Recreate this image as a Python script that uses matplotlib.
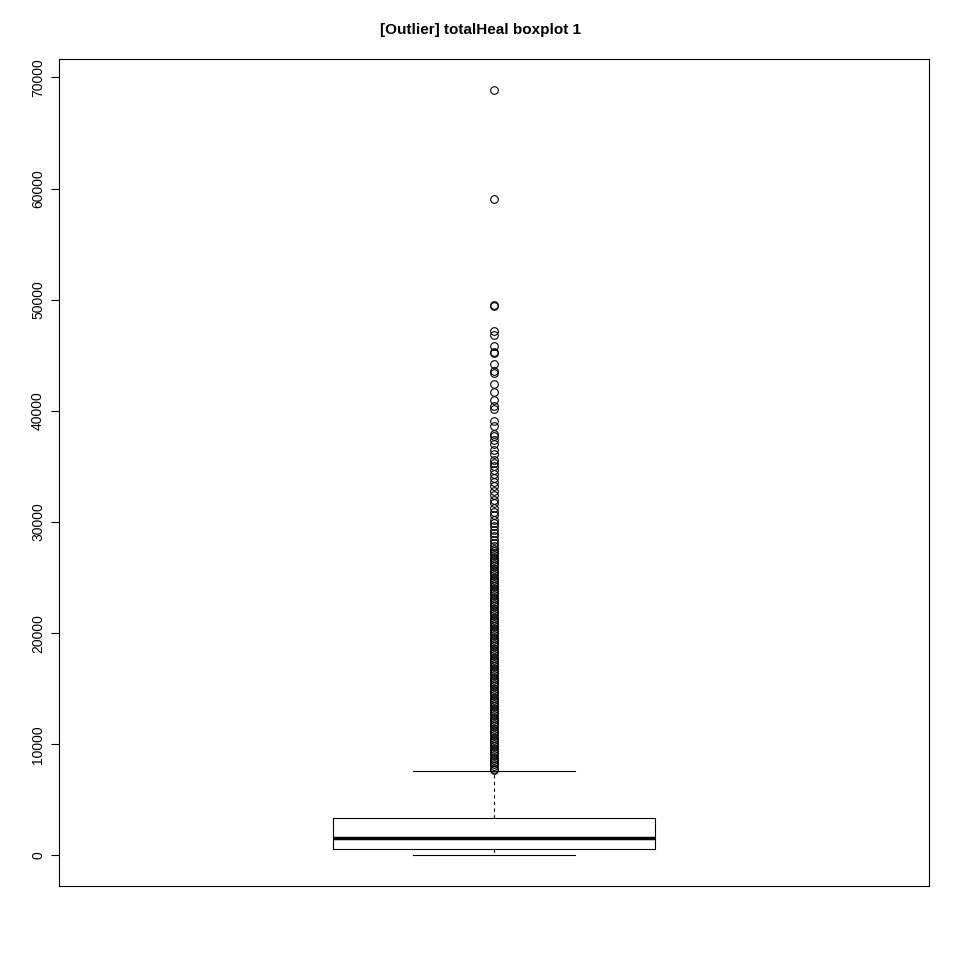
import matplotlib
matplotlib.use("Agg")
import matplotlib.pyplot as plt

title = "[Outlier] totalHeal boxplot 1"
whislo, q1, med, q3, whishi = 0, 540, 1530, 3330, 7620
outliers_high = [68900, 59100, 49500, 49400, 47200, 46800, 45800, 45300, 45200, 44200,
                 43600, 43400, 42400, 41700, 41000, 40400, 40200, 39100, 38600, 37900,
                 37700, 37400, 37000, 36500, 36100, 35600, 35300, 35000, 34700, 34300,
                 34000, 33600, 33200, 32800, 32400, 32000, 31700, 31300, 30900, 30600,
                 30200, 29900, 29600, 29300, 29000, 28700, 28400, 28100, 27800]
outliers_dense = [27600, 27400, 27200, 27000, 26800, 26600, 26400, 26200, 26000, 25800,
                  25600, 25400, 25200, 25000, 24800, 24600, 24400, 24200, 24000, 23800,
                  23600, 23400, 23200, 23000, 22800, 22600, 22400, 22200, 22000, 21800,
                  21600, 21400, 21200, 21000, 20800, 20600, 20400, 20200, 20000, 19800,
                  19600, 19400, 19200, 19000, 18800, 18600, 18400, 18200, 18000, 17800,
                  17600, 17400, 17200, 17000, 16800, 16600, 16400, 16200, 16000, 15800,
                  15600, 15400, 15200, 15000, 14800, 14600, 14400, 14200, 14000, 13800,
                  13600, 13400, 13200, 13000, 12800, 12600, 12400, 12200, 12000, 11800,
                  11600, 11400, 11200, 11000, 10800, 10600, 10400, 10200, 10000, 9800,
                  9600, 9400, 9200, 9000, 8800, 8600, 8400, 8200, 8000, 7800, 7700]
yticks = [0, 10000, 20000, 30000, 40000, 50000, 60000, 70000]

plt.rcParams['font.family'] = ['Liberation Sans', 'DejaVu Sans']
fig = plt.figure(figsize=(9.6, 9.6), dpi=100)
ax = fig.add_axes([59/960, 1-886/960, 870/960, 827/960])

stats = [dict(whislo=whislo, q1=q1, med=med, q3=q3, whishi=whishi,
              fliers=outliers_high + outliers_dense)]
ax.bxp(stats, positions=[1], widths=0.4,
       boxprops=dict(color='black', linewidth=0.8),
       medianprops=dict(color='black', linewidth=2.5),
       whiskerprops=dict(color='black', linewidth=0.8, linestyle=(0, (3, 3))),
       capprops=dict(color='black', linewidth=0.8),
       capwidths=0.2,
       flierprops=dict(marker='o', markerfacecolor='none', markeredgecolor='black',
                       markersize=5.5, markeredgewidth=0.8))

dmax = max(outliers_high)
pad = 0.04 * dmax
ax.set_ylim(-pad, dmax + pad)
ax.set_xlim(0.46, 1.54)
ax.set_xticks([])
ax.set_yticks(yticks)
ax.set_yticklabels([str(v) for v in yticks], rotation=90, va='center', fontsize=10)
ax.tick_params(axis='y', length=6, pad=4)
for s in ax.spines.values():
    s.set_linewidth(0.8)
fig.text(0.5, 1-30/960, title, ha='center', va='center', fontsize=11, fontweight='bold')
fig.savefig("out.png", dpi=100)
